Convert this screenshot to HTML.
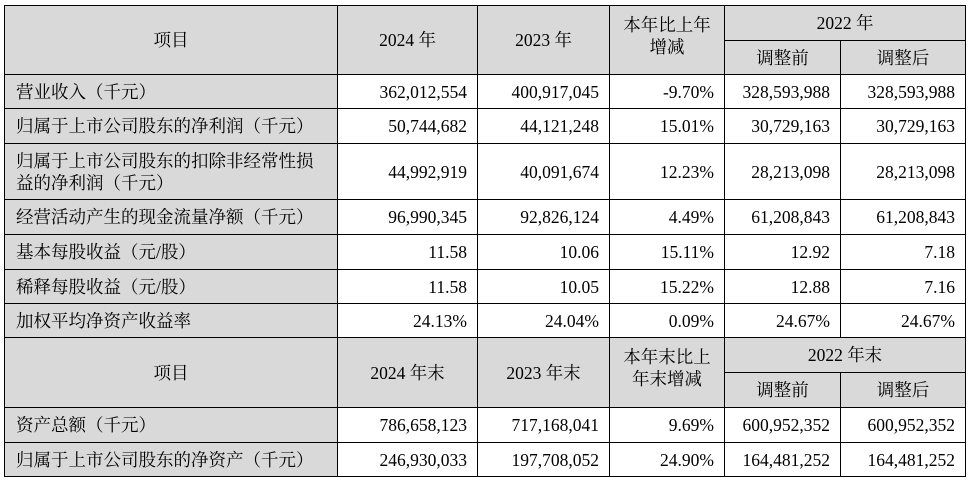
<!DOCTYPE html>
<html><head><meta charset="utf-8"><style>
body{margin:0;background:#fff;width:973px;height:483px;overflow:hidden}
table{position:absolute;left:4px;top:5px;border-collapse:collapse;table-layout:fixed;font-family:"Liberation Serif","Noto Serif CJK SC",serif;font-size:17.5px;color:#000}
td{border:1px solid #000;padding:0 10px 0 11px;white-space:nowrap;overflow:hidden;line-height:22px}
td.h{background:#d9d9d9;text-align:center;padding:0}
td.l{background:#d9d9d9;text-align:left}
td.n{text-align:right}
</style></head><body>
<table>
<colgroup><col style="width:333px"><col style="width:140px"><col style="width:132px"><col style="width:115px"><col style="width:116px"><col style="width:125px"></colgroup>
<tr style="height:35px"><td class="h" rowspan="2">项目</td><td class="h" rowspan="2">2024 年</td><td class="h" rowspan="2">2023 年</td><td class="h" rowspan="2" style="vertical-align:top;padding-top:8px">本年比上年<br>增减</td><td class="h" colspan="2">2022 年</td></tr>
<tr style="height:34px"><td class="h">调整前</td><td class="h">调整后</td></tr>
<tr style="height:34px"><td class="l">营业收入（千元）</td><td class="n">362,012,554</td><td class="n">400,917,045</td><td class="n">-9.70%</td><td class="n">328,593,988</td><td class="n">328,593,988</td></tr>
<tr style="height:35px"><td class="l">归属于上市公司股东的净利润（千元）</td><td class="n">50,744,682</td><td class="n">44,121,248</td><td class="n">15.01%</td><td class="n">30,729,163</td><td class="n">30,729,163</td></tr>
<tr style="height:56px"><td class="l">归属于上市公司股东的扣除非经常性损<br>益的净利润（千元）</td><td class="n">44,992,919</td><td class="n">40,091,674</td><td class="n">12.23%</td><td class="n">28,213,098</td><td class="n">28,213,098</td></tr>
<tr style="height:35px"><td class="l">经营活动产生的现金流量净额（千元）</td><td class="n">96,990,345</td><td class="n">92,826,124</td><td class="n">4.49%</td><td class="n">61,208,843</td><td class="n">61,208,843</td></tr>
<tr style="height:35px"><td class="l">基本每股收益（元/股）</td><td class="n">11.58</td><td class="n">10.06</td><td class="n">15.11%</td><td class="n">12.92</td><td class="n">7.18</td></tr>
<tr style="height:34px"><td class="l">稀释每股收益（元/股）</td><td class="n">11.58</td><td class="n">10.05</td><td class="n">15.22%</td><td class="n">12.88</td><td class="n">7.16</td></tr>
<tr style="height:34px"><td class="l">加权平均净资产收益率</td><td class="n">24.13%</td><td class="n">24.04%</td><td class="n">0.09%</td><td class="n">24.67%</td><td class="n">24.67%</td></tr>
<tr style="height:35px"><td class="h" rowspan="2">项目</td><td class="h" rowspan="2">2024 年末</td><td class="h" rowspan="2">2023 年末</td><td class="h" rowspan="2" style="vertical-align:top;padding-top:8px">本年末比上<br>年末增减</td><td class="h" colspan="2">2022 年末</td></tr>
<tr style="height:35px"><td class="h">调整前</td><td class="h">调整后</td></tr>
<tr style="height:35px"><td class="l">资产总额（千元）</td><td class="n">786,658,123</td><td class="n">717,168,041</td><td class="n">9.69%</td><td class="n">600,952,352</td><td class="n">600,952,352</td></tr>
<tr style="height:34px"><td class="l">归属于上市公司股东的净资产（千元）</td><td class="n">246,930,033</td><td class="n">197,708,052</td><td class="n">24.90%</td><td class="n">164,481,252</td><td class="n">164,481,252</td></tr>
</table>
</body></html>
